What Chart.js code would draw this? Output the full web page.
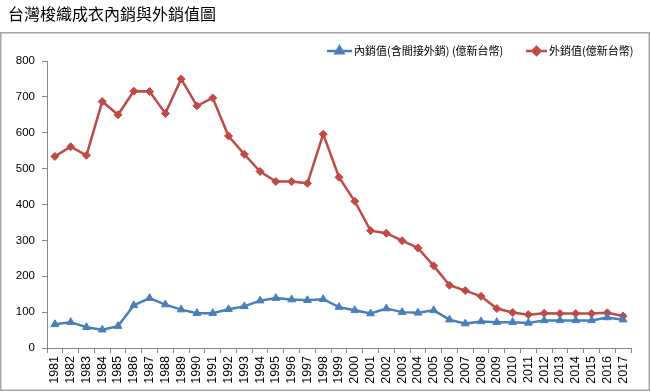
<!DOCTYPE html>
<html>
<head>
<meta charset="utf-8">
<script src="https://cdn.jsdelivr.net/npm/chart.js@4/dist/chart.umd.min.js"></script>
<style>
html,body{margin:0;padding:0;background:#fff;}
canvas{display:block;}
</style>
</head>
<body>
<canvas id="c" width="651" height="392"></canvas>
<script>
const chartTitle = '台灣梭織成衣內銷與外銷值圖';
const years = ['1981','1982','1983','1984','1985','1986','1987','1988','1989','1990','1991','1992','1993','1994','1995','1996','1997','1998','1999','2000','2001','2002','2003','2004','2005','2006','2007','2008','2009','2010','2011','2012','2013','2014','2015','2016','2017'];
const domesticLabel = '內銷值(含間接外銷) (億新台幣)';
const domesticValues = [66,72,58,51,61,119,139,121,107,97,97,108,116,132,139,135,133,136,114,105,96,110,100,98,105,79,68,74,72,72,70,77,77,77,77,85,79];
const exportLabel = '外銷值(億新台幣)';
const exportValues = [534,561,537,687,650,716,715,654,750,675,697,591,540,492,464,464,459,596,476,409,327,320,299,279,229,175,160,144,110,99,93,97,96,96,96,98,89];
const yTicks = [0,100,200,300,400,500,600,700,800];

const BLUE = '#4A7EBB';
const RED = '#BE4B48';
const AXIS = '#868686';
const FONT = '"Liberation Sans", Arial, "Noto Sans CJK TC", sans-serif';
const CJK = '"Noto Sans CJK TC", "Liberation Sans", sans-serif';

const decor = {
  id: 'decor',
  beforeDraw(chart) {
    const ctx = chart.ctx;
    ctx.save();
    ctx.fillStyle = '#fff';
    ctx.fillRect(0, 0, chart.width, chart.height);
    ctx.restore();
  },
  afterDraw(chart) {
    const ctx = chart.ctx;
    ctx.save();
    // border
    ctx.strokeStyle = '#A6A6A6';
    ctx.lineWidth = 1.5;
    ctx.strokeRect(0.75, 32.75, 648.5, 357.5);
    // title
    ctx.fillStyle = '#000';
    ctx.font = '16px ' + CJK;
    ctx.textBaseline = 'middle';
    ctx.textAlign = 'left';
    ctx.fillText(chartTitle, 8, 14);
    // legend
    const items = [
      {x0: 327, x1: 352, ds: chart.data.datasets[0]},
      {x0: 526, x1: 547, ds: chart.data.datasets[1]}
    ];
    const ly = 51;
    ctx.font = '11px ' + CJK;
    items.forEach(it => {
      ctx.strokeStyle = it.ds.borderColor;
      ctx.fillStyle = it.ds.borderColor;
      ctx.lineWidth = 2.5;
      ctx.beginPath();
      ctx.moveTo(it.x0, ly);
      ctx.lineTo(it.x1, ly);
      ctx.stroke();
      Chart.helpers.drawPoint(ctx, {
        pointStyle: it.ds.pointStyle,
        radius: it.ds.pointRadius,
        rotation: 0,
        borderWidth: 1
      }, (it.x0 + it.x1) / 2, ly);
      ctx.fillStyle = '#000';
      ctx.fillText(it.ds.label, it.x1 + 2, ly);
    });
    ctx.restore();
  }
};

Chart.register(decor);

new Chart(document.getElementById('c'), {
  type: 'line',
  data: {
    labels: years,
    datasets: [
      {
        label: domesticLabel,
        data: domesticValues,
        borderColor: BLUE,
        backgroundColor: BLUE,
        borderWidth: 2.5,
        pointStyle: 'triangle',
        pointRadius: 4.5,
        pointBorderWidth: 1,
        pointBackgroundColor: BLUE,
        pointBorderColor: BLUE,
        tension: 0
      },
      {
        label: exportLabel,
        data: exportValues,
        borderColor: RED,
        backgroundColor: RED,
        borderWidth: 2.5,
        pointStyle: 'rectRot',
        pointRadius: 4,
        pointBorderWidth: 1,
        pointBackgroundColor: RED,
        pointBorderColor: RED,
        tension: 0
      }
    ]
  },
  options: {
    responsive: false,
    animation: false,
    devicePixelRatio: 1,
    layout: {padding: {top: 61, right: 20, left: 0, bottom: 0}},
    plugins: {
      legend: {display: false},
      title: {display: false},
      tooltip: {enabled: false}
    },
    scales: {
      x: {
        type: 'category',
        offset: true,
        grid: {offset: true, drawOnChartArea: false, drawTicks: true, tickLength: 5, color: AXIS, lineWidth: 1},
        border: {color: AXIS, width: 1},
        ticks: {
          autoSkip: false, minRotation: 90, maxRotation: 90, padding: 3,
          color: '#000', font: {family: FONT, size: 12.5}
        },
        afterFit(scale) { scale.height = 44; }
      },
      y: {
        min: 0, max: 800,
        afterBuildTicks(scale) { scale.ticks = yTicks.map(v => ({value: v})); },
        grid: {drawOnChartArea: false, drawTicks: true, tickLength: 5, color: AXIS, lineWidth: 1},
        border: {color: AXIS, width: 1},
        ticks: {
          padding: 7, color: '#000', font: {family: FONT, size: 11.5}
        },
        afterFit(scale) { scale.width = 47; }
      }
    }
  }
});
</script>
</body>
</html>
